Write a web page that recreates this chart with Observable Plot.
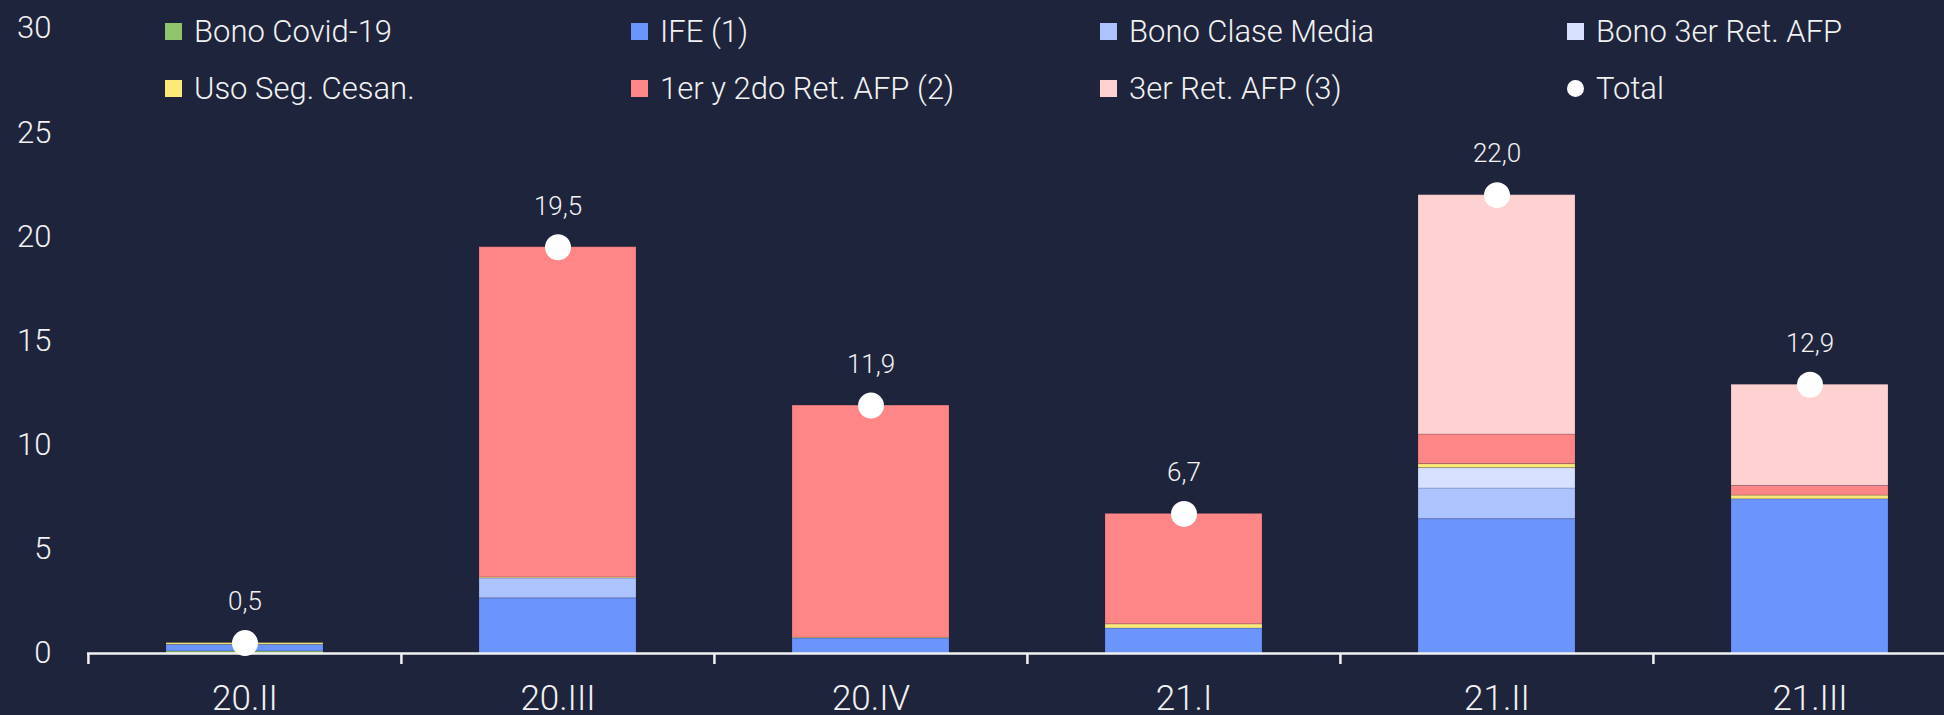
<!DOCTYPE html>
<html>
<head>
<meta charset="utf-8">
<script src="https://cdn.jsdelivr.net/npm/d3@7"></script>
<script src="https://cdn.jsdelivr.net/npm/@observablehq/plot@0.6"></script>
<style>
  html, body { margin: 0; padding: 0; background: #1f243d; overflow: hidden; }
  #wrap { position: relative; width: 1944px; height: 715px; background: #1f243d; }
  #legend { position: absolute; left: 0; top: 0; width: 1944px; height: 120px;
    font-family: Roboto, "Open Sans", sans-serif; font-weight: 300; font-size: 31px; color: #f2f2f2; }
  .item { position: absolute; display: flex; align-items: center; height: 40px; white-space: nowrap; }
  .sw { width: 17px; height: 17px; margin-right: 12px; flex: none; }
  .sw.circle { border-radius: 50%; }
  #chart { position: absolute; left: 0; top: 0; }
</style>
</head>
<body>
<div id="wrap">
  <div id="chart"></div>
  <div id="legend"></div>
</div>
<script>
// ---- data ----
const periods = ["20.II", "20.III", "20.IV", "21.I", "21.II", "21.III"];
const seriesNames = ["Bono Covid-19", "IFE (1)", "Bono Clase Media", "Bono 3er Ret. AFP",
  "Uso Seg. Cesan.", "1er y 2do Ret. AFP (2)", "3er Ret. AFP (3)"];
const seriesColors = ["#8fc36c", "#6b94fc", "#adc3fd", "#d7e1ff", "#fbe978", "#ff8686", "#ffd1d1"];
const bonoCovid      = [0.10, 0,     0,     0,    0,     0];
const ife            = [0.32, 2.65,  0.72,  1.2,  6.45,  7.40];
const bonoClaseMedia = [0,    0.95,  0,     0,    1.47,  0];
const bono3erRet     = [0,    0,     0,     0,    0.98,  0];
const usoSegCesan    = [0.08, 0.05,  0.04,  0.2,  0.19,  0.18];
const retiro1y2      = [0,    15.85, 11.14, 5.3,  1.42,  0.47];
const retiro3        = [0,    0,     0,     0,    11.49, 4.85];
const totals         = [0.5,  19.5,  11.9,  6.7,  22.0,  12.9];
const totalLabel = "Total";
const yTicks = [0, 5, 10, 15, 20, 25, 30];

// ---- build tables ----
const seriesValues = [bonoCovid, ife, bonoClaseMedia, bono3erRet, usoSegCesan, retiro1y2, retiro3];
const rows = [];
seriesNames.forEach((s, si) => {
  periods.forEach((p, pi) => {
    const v = seriesValues[si][pi];
    if (v > 0) rows.push({period: p, series: s, value: v});
  });
});
const totalRows = periods.map((p, i) => ({period: p, total: totals[i]}));

// ---- layout ----
const W = 1944, H = 715;
const xRange = [87, 1966];
const step = (xRange[1] - xRange[0]) / periods.length;
const textColor = "#f2f2f2";
const font = "Roboto, 'Open Sans', sans-serif";

const chart = Plot.plot({
  width: W, height: H,
  marginLeft: 87, marginRight: 0, marginTop: 28, marginBottom: 62,
  style: {background: "transparent", color: textColor, fontFamily: font, fontWeight: 300, overflow: "visible"},
  x: {domain: periods, range: xRange, paddingInner: 0.5, paddingOuter: 0.25},
  y: {domain: [0, 30]},
  color: {domain: seriesNames, range: seriesColors},
  marks: [
    Plot.barY(rows, {x: "period", y: "value", fill: "series", stroke: "#1f243d", strokeOpacity: 0.18, strokeWidth: 1}),
    Plot.ruleY([0], {stroke: textColor, strokeWidth: 2.5}),
    Plot.ruleX(periods, {x: d => d, y1: 0, y2: 0, insetBottom: -11, dx: -step / 2, stroke: textColor, strokeWidth: 2.5}),
    Plot.axisY({ticks: yTicks, tickSize: 0, tickPadding: 36, fontSize: 31, label: null, fill: textColor}),
    Plot.axisX({tickSize: 0, tickPadding: 32, fontSize: 35, label: null, fill: textColor}),
    Plot.dot(totalRows, {x: "period", y: "total", r: 13, fill: "white", stroke: null}),
    Plot.text(totalRows, {x: "period", y: "total", text: d => d.total.toFixed(1).replace(".", ","),
      dy: -41, fontSize: 26, fill: textColor})
  ]
});
document.getElementById("chart").appendChild(chart);

// ---- legend ----
const legendItems = seriesNames.map((s, i) => ({label: s, color: seriesColors[i], circle: false}))
  .concat([{label: totalLabel, color: "white", circle: true}]);
const colX = [165, 631, 1100, 1567];
const rowY = [11, 68];
const legend = document.getElementById("legend");
legendItems.forEach((it, i) => {
  const div = document.createElement("div");
  div.className = "item";
  div.style.left = colX[i % 4] + "px";
  div.style.top = rowY[Math.floor(i / 4)] + "px";
  const sw = document.createElement("span");
  sw.className = "sw" + (it.circle ? " circle" : "");
  sw.style.background = it.color;
  const tx = document.createElement("span");
  tx.textContent = it.label;
  div.appendChild(sw);
  div.appendChild(tx);
  legend.appendChild(div);
});
</script>
</body>
</html>
